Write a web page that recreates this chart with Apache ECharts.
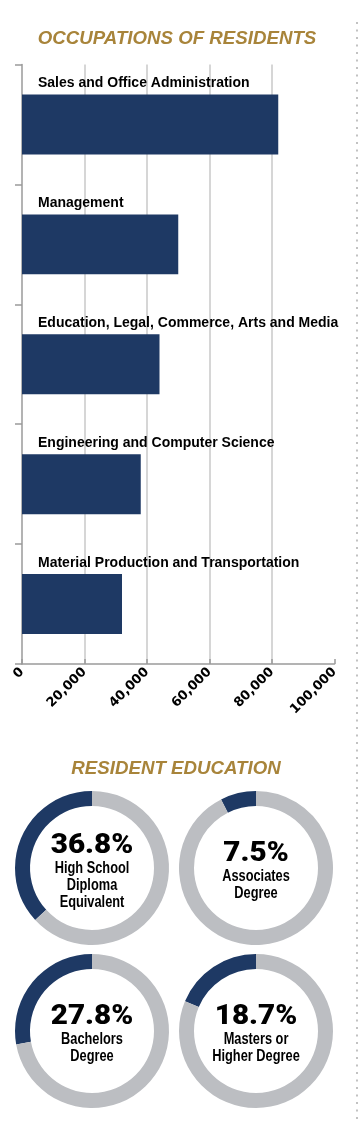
<!DOCTYPE html>
<html>
<head>
<meta charset="utf-8">
<script src="https://cdn.jsdelivr.net/npm/echarts@6/dist/echarts.min.js"></script>
<style>
html,body{margin:0;padding:0;background:#fff;}
#main{width:358px;height:1121px;}
</style>
</head>
<body>
<div id="main"></div>
<script>
// ---- data ----
const occupationCategories = [
  'Sales and Office Administration',
  'Management',
  'Education, Legal, Commerce, Arts and Media',
  'Engineering and Computer Science',
  'Material Production and Transportation'
];
const occupationValues = [82000, 50000, 44000, 38000, 32000];
const xTickValues = [0, 20000, 40000, 60000, 80000, 100000];

const educationLabels = [
  'High School\nDiploma\nEquivalent',
  'Associates\nDegree',
  'Bachelors\nDegree',
  'Masters or\nHigher Degree'
];
const educationPercents = [36.8, 7.5, 27.8, 18.7];

const titleOccupations = 'OCCUPATIONS OF RESIDENTS';
const titleEducation = 'RESIDENT EDUCATION';

// ---- styles ----
const NAVY = '#1e3964';
const RING = '#bcbec2';
const GOLD = '#a8843a';
const GRID = '#c9c9c9';
const AXIS = '#9a9a9a';

const pieCenters = [[92, 868], [256, 868], [92, 1031], [256, 1031]];

const chart = echarts.init(document.getElementById('main'), null, {renderer: 'canvas'});

const pieSeries = educationPercents.map((p, i) => ({
  type: 'pie',
  center: pieCenters[i],
  radius: [62, 77],
  startAngle: 90,
  clockwise: false,
  silent: true,
  animation: false,
  emphasis: {disabled: true},
  label: {show: false},
  labelLine: {show: false},
  data: [
    {value: p, name: educationLabels[i], itemStyle: {color: NAVY}},
    {value: 100 - p, name: 'rest', itemStyle: {color: RING}}
  ]
}));

// centre texts of the donuts
const donutTexts = [];
educationPercents.forEach((p, i) => {
  const lines = educationLabels[i].split('\n');
  const n = lines.length;
  const [cx, cy] = pieCenters[i];
  const py = cy - 22 + (3 - n) * 8;
  donutTexts.push({
    type: 'text', x: cx, y: py, scaleX: 1.06, silent: true,
    style: {
      text: p.toFixed(1) + '%', fill: '#000', align: 'center', verticalAlign: 'middle',
      font: '900 28px Roboto, "Liberation Sans", sans-serif'
    }
  });
  donutTexts.push({
    type: 'text', x: cx, y: py + 23 - 8.5, scaleX: 0.8, silent: true,
    style: {
      text: educationLabels[i], fill: '#000', align: 'center', verticalAlign: 'top',
      lineHeight: 17,
      font: 'bold 16px "Liberation Sans", Arial, sans-serif'
    }
  });
});

const option = {
  animation: false,
  grid: {left: 22, right: 23.5, top: 64.5, bottom: 457, containLabel: false},
  xAxis: {
    type: 'value',
    min: 0,
    max: 100000,
    interval: 20000,
    axisLine: {show: true, lineStyle: {color: AXIS, width: 1.5}},
    axisTick: {show: true, inside: true, length: 5, lineStyle: {color: AXIS, width: 1.5}},
    splitLine: {show: true, lineStyle: {color: ['rgba(0,0,0,0)', GRID, GRID, GRID, GRID, 'rgba(0,0,0,0)'], width: 1.5}},
    axisLabel: {
      rotate: 45,
      margin: 6,
      color: '#000',
      fontFamily: '"DejaVu Sans", sans-serif',
      fontWeight: 'bold',
      fontSize: 13,
      formatter: v => v.toLocaleString('en-US')
    }
  },
  yAxis: {
    type: 'category',
    inverse: true,
    data: occupationCategories,
    axisLine: {show: true, lineStyle: {color: AXIS, width: 1.5}},
    axisTick: {show: true, length: 7, lineStyle: {color: AXIS, width: 1.5}},
    axisLabel: {show: false},
    splitLine: {show: false}
  },
  series: [
    {
      type: 'bar',
      data: occupationValues,
      barWidth: '50%',
      itemStyle: {color: NAVY},
      silent: true,
      label: {
        show: true,
        position: [16, -11],
        align: 'left',
        verticalAlign: 'middle',
        formatter: '{b}',
        color: '#000',
        fontFamily: '"Liberation Sans", Arial, sans-serif',
        fontWeight: 'bold',
        fontSize: 14
      }
    }
  ].concat(pieSeries),
  graphic: [
    {
      type: 'text', x: 177, y: 39, silent: true,
      style: {text: titleOccupations, fill: GOLD, align: 'center', verticalAlign: 'middle',
        font: 'italic bold 18.7px "Liberation Sans", Arial, sans-serif'}
    },
    {
      type: 'text', x: 176, y: 769, silent: true,
      style: {text: titleEducation, fill: GOLD, align: 'center', verticalAlign: 'middle',
        font: 'italic bold 18.7px "Liberation Sans", Arial, sans-serif'}
    },
    {
      type: 'line', silent: true,
      shape: {x1: 357, y1: 22, x2: 357, y2: 1121},
      style: {stroke: '#9a9a9a', lineWidth: 1.2, lineDash: [2, 5.5]}
    }
  ].concat(donutTexts)
};
chart.setOption(option);
</script>
</body>
</html>
